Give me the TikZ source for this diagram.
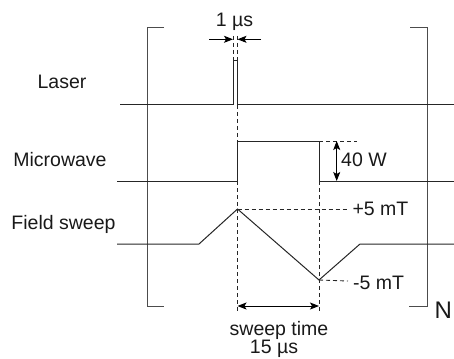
\documentclass[tikz,border=0pt]{standalone}
\usepackage{fontspec}
\setmainfont{Liberation Sans}
\usetikzlibrary{arrows.meta}
\begin{document}
\begin{tikzpicture}[x=1pt,y=-1pt,
  sig/.style={draw=black!85, line width=1pt},
  brk/.style={draw=black!70, line width=1pt},
  guide/.style={draw=black!85, line width=0.9pt, dash pattern=on 4pt off 3pt},
  dim/.style={draw=black, line width=1pt, {Stealth[length=9pt,width=7pt,inset=2pt]}-{Stealth[length=9pt,width=7pt,inset=2pt]}},
  dimr/.style={draw=black, line width=1pt, -{Stealth[length=9pt,width=7pt,inset=2pt]}},
  lbl/.style={inner sep=0pt, anchor=base, text=black!90, font=\fontsize{19.5}{22}\selectfont},
]
\useasboundingbox (0,0) rectangle (454,358);
% coordinates
\coordinate (lpL) at (233,105);
\coordinate (lpR) at (237.5,105);
\coordinate (mwR) at (237.5,181);
\coordinate (mwF) at (319,181);
\coordinate (peak) at (237.5,209);
\coordinate (vall) at (319,280);
% brackets
\draw[brk] (164,28) -- (147,28) -- (147,306) -- (164,306);
\draw[brk] (410,28) -- (427,28) -- (427,306) -- (409,306);
% laser
\draw[sig] (120,105) -- (lpL) -- (233,61) -- (237.5,61) -- (lpR) -- (454,105);
% microwave
\draw[sig] (117,181) -- (mwR) -- (237.5,141) -- (319,141) -- (mwF) -- (454,181);
% field sweep
\draw[sig] (117,244) -- (199,244) -- (peak) -- (vall) -- (360,244) -- (454,244);
% guides
\draw[guide] (233,36) -- (233,61);
\draw[guide] (237.5,36) -- (237.5,61);
\draw[guide] (lpR) -- (237.5,141);
\draw[guide] (mwR) -- (237.5,311);
\draw[guide] (mwF) -- (319,311);
\draw[guide] (319,141) -- (357,141);
\draw[guide] (peak) -- (348,209);
\draw[guide] (vall) -- (348,281);
% dimension arrows
\coordinate (a1s) at (209,39.3);
\coordinate (a1e) at (233,39.3);
\coordinate (a2s) at (261,39.3);
\coordinate (a2e) at (237.5,39.3);
\draw[dimr] (a1s) -- (a1e);
\draw[dimr] (a2s) -- (a2e);
\coordinate (w1) at (336.7,141);
\coordinate (w2) at (336.7,181);
\draw[dim] (w1) -- (w2);
\coordinate (s1) at (237.5,306);
\coordinate (s2) at (319,306);
\draw[dim] (s1) -- (s2);
% labels
\node[lbl] (t1us) at (234.5,26.7) {1 µs};
\node[lbl] (tlaser) at (62,89) {Laser};
\node[lbl] (tmw) at (60,166) {Microwave};
\node[lbl] (tfs) at (63.5,229.5) {Field sweep};
\node[lbl, anchor=base west] (t40) at (341,166.5) {40 W};
\node[lbl, anchor=base west] (tp5) at (352.3,215.7) {+5 mT};
\node[lbl, anchor=base west] (tm5) at (353,289.3) {-5 mT};
\node[lbl] (tsw) at (279,335.2) {sweep time};
\node[lbl] (t15) at (274,353.6) {15 µs};
\node[lbl, anchor=base west, font=\fontsize{24}{26}\selectfont] (tN) at (434.5,318) {N};
\end{tikzpicture}
\end{document}
